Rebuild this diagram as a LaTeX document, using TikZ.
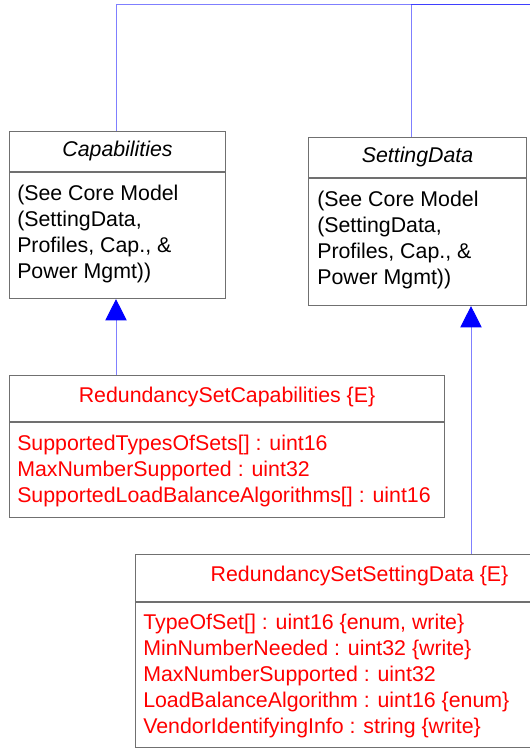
\documentclass[tikz,border=0pt]{standalone}
\usepackage{fontspec}
\setmainfont{Liberation Sans}
\usetikzlibrary{arrows.meta, positioning, calc}
\definecolor{umlred}{RGB}{255,0,0}
\definecolor{umlgray}{RGB}{112,112,112}
\tikzset{
    classbox/.style={draw=umlgray, line width=0.8pt, rectangle, anchor=north west, inner sep=0pt},
    divider/.style={draw=umlgray, line width=0.8pt},
    classname/.style={font=\fontsize{16}{19.5}\selectfont, anchor=base, inner sep=0pt},
    members/.style={font=\fontsize{16}{19.5}\selectfont, align=left, anchor=base west, inner sep=0pt},
    assoc/.style={draw=blue, draw opacity=0.5, line width=0.75pt},
    inherit/.style={draw=blue!50, line width=0.75pt, -{Triangle[length=16pt, width=16pt, color=blue]}}
}

\begin{document}
\begin{tikzpicture}[x=0.75pt, y=-0.75pt]
    \useasboundingbox (0,0) rectangle (530,752);
    \clip (0,0) rectangle (530,752);

    % abstract classes from the core model
    \node [classbox, minimum width=162pt, minimum height=125.25pt] (cap) at (9,131) {};
    \draw [divider] ($(cap.north west)+(0,41)$) -- ($(cap.north east)+(0,41)$);
    \node [classname, font=\fontsize{16}{19.5}\selectfont\itshape] (capname) at ($(cap.north)+(0,26)$) {Capabilities};
    \node [members] (capbody) at ($(cap.north west)+(8,147)$) {(See Core Model\\(SettingData,\\Profiles, Cap., \&\\Power Mgmt))};

    \node [classbox, minimum width=163.5pt, minimum height=126pt] (sd) at (308,137) {};
    \draw [divider] ($(sd.north west)+(0,41)$) -- ($(sd.north east)+(0,41)$);
    \node [classname, font=\fontsize{16}{19.5}\selectfont\itshape] (sdname) at ($(sd.north)+(0,26)$) {SettingData};
    \node [members] (sdbody) at ($(sd.north west)+(9,147)$) {(See Core Model\\(SettingData,\\Profiles, Cap., \&\\Power Mgmt))};

    % redundancy set classes
    \node [classbox, minimum width=326.25pt, minimum height=106.5pt] (rsc) at (9,375) {};
    \draw [divider] ($(rsc.north west)+(0,47)$) -- ($(rsc.north east)+(0,47)$);
    \node [classname, text=umlred] (rscname) at ($(rsc.north)+(0,27)$) {RedundancySetCapabilities \{E\}};
    \node [members, text=umlred] (rscbody) at ($(rsc.north west)+(8,127)$) {SupportedTypesOfSets[] : uint16\\MaxNumberSupported : uint32\\SupportedLoadBalanceAlgorithms[] : uint16};

    \node [classbox, minimum width=336pt, minimum height=144.75pt] (rssd) at (135,554) {};
    \draw [divider] ($(rssd.north west)+(0,48)$) -- ($(rssd.north east)+(0,48)$);
    \node [classname, text=umlred] (rssdname) at ($(rssd.north)+(0,27)$) {RedundancySetSettingData \{E\}};
    \node [members, text=umlred] (rssdbody) at ($(rssd.north west)+(8,179)$) {TypeOfSet[] : uint16 \{enum, write\}\\MinNumberNeeded : uint32 \{write\}\\MaxNumberSupported : uint32\\LoadBalanceAlgorithm : uint16 \{enum\}\\VendorIdentifyingInfo : string \{write\}};

    % links to the rest of the model
    \coordinate (capup) at ($(cap.north west)+(107,0)$);
    \coordinate (sdup) at ($(sd.north west)+(103,0)$);
    \draw [assoc] (capup) |- (560,5);
    \draw [assoc] (sdup) |- (560,5);

    % inheritance
    \draw [inherit] ($(rsc.north west)+(107,0)$) -- ($(cap.south west)+(107,0)$);
    \draw [inherit] ($(rssd.north west)+(336,0)$) -- ($(sd.south west)+(163,0)$);
\end{tikzpicture}
\end{document}
